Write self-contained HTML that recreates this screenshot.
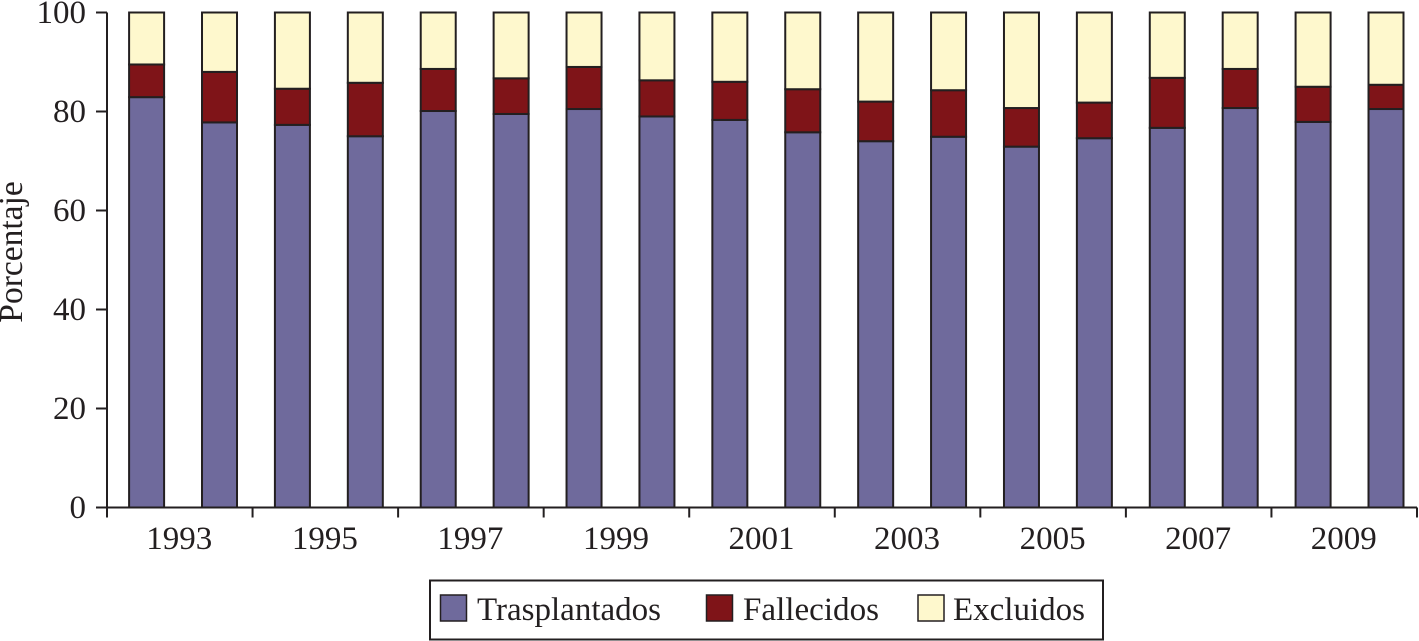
<!DOCTYPE html>
<html lang="es">
<head>
<meta charset="utf-8">
<title>Porcentaje por año</title>
<style>
html,body{margin:0;padding:0;background:#fff;}
body{width:1419px;height:641px;overflow:hidden;}
svg{display:block;}
text{font-family:"Liberation Serif",serif;fill:#231f20;}
</style>
</head>
<body>
<svg id="chart" width="1419" height="641" viewBox="0 0 1419 641" xmlns="http://www.w3.org/2000/svg">
  <text transform="translate(22,252) rotate(-90)" text-anchor="middle" font-size="33.5">Porcentaje</text>
  <g id="bars"></g>
  <g id="axes"></g>
  <g>
    <rect x="430" y="580.5" width="673" height="59" fill="#fff" stroke="#231f20" stroke-width="2"/>
    <g>
      <rect x="440.5" y="595" width="26" height="26" fill="#6f6a9c" stroke="#231f20" stroke-width="1.5"/>
      <text x="477" y="620" font-size="33" textLength="184" lengthAdjust="spacingAndGlyphs">Trasplantados</text>
    </g>
    <g>
      <rect x="706.5" y="595" width="26" height="26" fill="#7f1418" stroke="#231f20" stroke-width="1.5"/>
      <text x="743" y="620" font-size="33" textLength="136" lengthAdjust="spacingAndGlyphs">Fallecidos</text>
    </g>
    <g>
      <rect x="918" y="595" width="26" height="26" fill="#fef8cd" stroke="#231f20" stroke-width="1.5"/>
      <text x="953" y="620" font-size="33" textLength="132" lengthAdjust="spacingAndGlyphs">Excluidos</text>
    </g>
  </g>
</svg>
<script>
const years = [1993,1994,1995,1996,1997,1998,1999,2000,2001,2002,2003,2004,2005,2006,2007,2008,2009,2010];
const trasplantados = [82.9,77.8,77.3,75.0,80.1,79.5,80.5,79.0,78.3,75.8,74.0,74.9,72.9,74.6,76.7,80.7,77.9,80.5];
const fallecidos = [6.6,10.2,7.3,10.8,8.5,7.2,8.5,7.3,7.7,8.7,8.0,9.4,7.8,7.2,10.1,7.9,7.1,4.9];
const excluidos = [10.5,12.0,15.4,14.2,11.4,13.3,11.0,13.7,14.0,15.5,18.0,15.7,19.3,18.2,13.2,11.4,15.0,14.6];
const yTicks = [0,20,40,60,80,100];
const xTickLabels = [1993,1995,1997,1999,2001,2003,2005,2007,2009];

const NS = 'http://www.w3.org/2000/svg';
const plotLeft = 107, plotRight = 1417, plotTop = 12.5, plotBottom = 507.5;
const bandW = (plotRight - plotLeft) / years.length;
const barW = 35;
const barFirstCenter = 146.6;
const barLastCenter = 1386;
const ink = '#231f20';

function yScale(v){ return plotBottom - (v / 100) * (plotBottom - plotTop); }
function barCenter(i){ return barFirstCenter + (barLastCenter - barFirstCenter) * i / (years.length - 1); }

function make(tag, attrs, parent){
  const el = document.createElementNS(NS, tag);
  for (const k in attrs) el.setAttribute(k, attrs[k]);
  parent.appendChild(el);
  return el;
}

const barsG = document.getElementById('bars');
const axesG = document.getElementById('axes');

years.forEach(function(year, i){
  const x = barCenter(i) - barW / 2;
  let base = 0;
  [[trasplantados, '#6f6a9c', 'trasplantados'],
   [fallecidos, '#7f1418', 'fallecidos'],
   [excluidos, '#fef8cd', 'excluidos']].forEach(function(s){
    const v = s[0][i];
    const top = yScale(base + v);
    const rect = make('rect', {x: x, y: top, width: barW, height: yScale(base) - top, fill: s[1], stroke: ink, 'stroke-width': 2}, barsG);
    
    
    base += v;
  });
});

const yAxis = make('line', {x1: plotLeft, x2: plotLeft, y1: plotTop, y2: plotBottom + 10, stroke: ink, 'stroke-width': 2}, axesG);



const xAxis = make('line', {x1: 96, x2: plotRight, y1: plotBottom, y2: plotBottom, stroke: ink, 'stroke-width': 2}, axesG);



yTicks.forEach(function(t){
  const y = yScale(t);
  const tick = make('line', {x1: 96, x2: plotLeft, y1: y, y2: y, stroke: ink, 'stroke-width': 2}, axesG);
  
  
  const label = make('text', {x: 86, y: y + 10.5, 'text-anchor': 'end', 'font-size': 33}, axesG);
  label.textContent = t;
  
  
});

for (let i = 0; i <= years.length; i += 2) {
  const x = plotLeft + bandW * i;
  const tick = make('line', {x1: x, x2: x, y1: plotBottom, y2: plotBottom + 10, stroke: ink, 'stroke-width': 2}, axesG);
  
  
}

xTickLabels.forEach(function(lbl, i){
  const label = make('text', {x: plotLeft + bandW * (2 * i + 1) - 0.5, y: 549, 'text-anchor': 'middle', 'font-size': 33}, axesG);
  label.textContent = lbl;
  
  
});
</script>
</body>
</html>
